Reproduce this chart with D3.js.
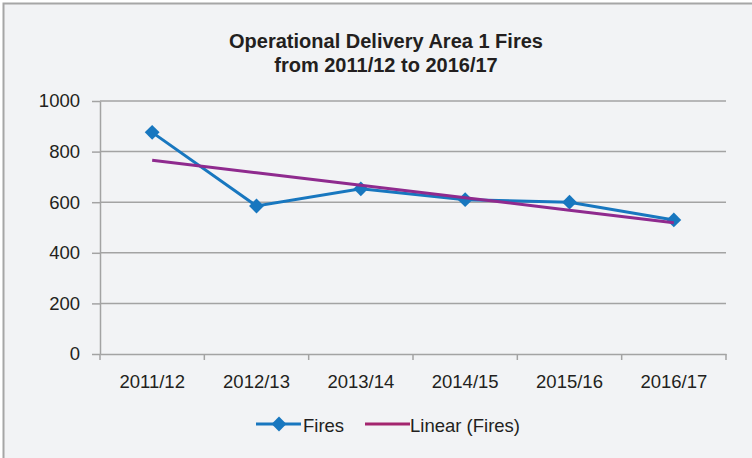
<!DOCTYPE html>
<html>
<head>
<meta charset="utf-8">
<script src="https://cdn.jsdelivr.net/npm/d3@7"></script>
<style>
  body { margin: 0; background: #fff; }
  text { font-family: "Liberation Sans", Arial, sans-serif; fill: #231f20; }
</style>
</head>
<body>
<script>
const width = 752;
const height = 458;

// data
const years = ["2011/12", "2012/13", "2013/14", "2014/15", "2015/16", "2016/17"];
const fires = [876, 585, 653, 610, 600, 530];
const yTicks = [0, 200, 400, 600, 800, 1000];

let margin = { top: 101, right: 26, bottom: 104, left: 100 };

let svg = d3
  .select("body")
  .append("svg")
  .attr("width", width)
  .attr("height", height);

// chart area background + border
svg
  .append("rect")
  .attr("x", 3.5)
  .attr("y", 3.5)
  .attr("width", width)
  .attr("height", height)
  .attr("fill", "#f2f3f5")
  .attr("stroke", "#a6a6a6")
  .attr("stroke-width", 2);

// title
let title = svg
  .append("text")
  .attr("text-anchor", "middle")
  .attr("font-weight", "bold")
  .attr("font-size", 20);
title.append("tspan").attr("x", 386).attr("y", 47.5).text("Operational Delivery Area 1 Fires");
title.append("tspan").attr("x", 386).attr("y", 72).text("from 2011/12 to 2016/17");

let xScale = d3
  .scaleBand()
  .domain(years)
  .range([margin.left, width - margin.right]);

let yScale = d3
  .scaleLinear()
  .domain([0, 1000])
  .range([height - margin.bottom, margin.top]);

// gridlines
svg
  .append("g")
  .selectAll("line")
  .data(yTicks.filter((d) => d > 0))
  .join("line")
  .attr("x1", margin.left)
  .attr("x2", width - margin.right)
  .attr("y1", (d) => yScale(d))
  .attr("y2", (d) => yScale(d))
  .attr("stroke", "#a3a3a3")
  .attr("stroke-width", 1.5);

// y axis
let yAxis = svg
  .append("g")
  .attr("transform", `translate(${margin.left}, 0)`)
  .call(
    d3.axisLeft(yScale)
      .tickValues(yTicks)
      .tickFormat(d3.format("d"))
      .tickSize(8)
      .tickPadding(12)
      .tickSizeOuter(0)
  );

// x axis, ticks between categories
let xAxis = svg
  .append("g")
  .attr("transform", `translate(0, ${height - margin.bottom})`)
  .call(d3.axisBottom(xScale).tickSize(0).tickPadding(21));

xAxis
  .selectAll(".sep")
  .data(years.concat(["end"]))
  .join("line")
  .attr("class", "sep")
  .attr("x1", (d, i) => (i < years.length ? xScale(d) : xScale.range()[1]))
  .attr("x2", (d, i) => (i < years.length ? xScale(d) : xScale.range()[1]))
  .attr("y1", 0)
  .attr("y2", 6)
  .attr("stroke", "#a3a3a3")
  .attr("stroke-width", 1.5);

[yAxis, xAxis].forEach((ax) => {
  ax.select(".domain").attr("stroke", "#a3a3a3").attr("stroke-width", 1.5);
  ax.selectAll(".tick line").attr("stroke", "#a3a3a3").attr("stroke-width", 1.5);
  ax.selectAll(".tick text")
    .attr("font-size", 18.5)
    .attr("font-family", '"Liberation Sans", Arial, sans-serif')
    .attr("fill", "#231f20");
});

let cx = (d) => xScale(d) + xScale.bandwidth() / 2;

// linear trend (least squares on the series)
let idx = fires.map((d, i) => i + 1);
let mx = d3.mean(idx);
let my = d3.mean(fires);
let slope =
  d3.sum(idx, (x, i) => (x - mx) * (fires[i] - my)) / d3.sum(idx, (x) => (x - mx) * (x - mx));
let trend = idx.map((x) => my + slope * (x - mx));

let line = d3
  .line()
  .x((d, i) => cx(years[i]))
  .y((d) => yScale(d));

svg
  .append("path")
  .datum(fires)
  .attr("d", line)
  .attr("fill", "none")
  .attr("stroke", "#1877bf")
  .attr("stroke-width", 3);

let diamond = d3.symbol().type(d3.symbolDiamond2).size(140);

svg
  .append("g")
  .selectAll("path")
  .data(fires)
  .join("path")
  .attr("d", diamond)
  .attr("transform", (d, i) => `translate(${cx(years[i])}, ${yScale(d)})`)
  .attr("fill", "#1877bf");

svg
  .append("path")
  .datum(trend)
  .attr("d", line)
  .attr("fill", "none")
  .attr("stroke", "#8f2a8e")
  .attr("stroke-width", 3);

// legend
let legend = svg.append("g").attr("transform", "translate(0, 424)");
legend.append("line").attr("x1", 256).attr("x2", 301).attr("stroke", "#1877bf").attr("stroke-width", 3);
legend
  .append("path")
  .attr("d", diamond)
  .attr("transform", "translate(279, 0)")
  .attr("fill", "#1877bf");
legend.append("text").attr("x", 303).attr("y", 7.5).attr("font-size", 18.5).text("Fires");
legend.append("line").attr("x1", 365).attr("x2", 410).attr("stroke", "#a3256e").attr("stroke-width", 3);
legend.append("text").attr("x", 410).attr("y", 7.5).attr("font-size", 18.5).text("Linear (Fires)");
</script>
</body>
</html>
